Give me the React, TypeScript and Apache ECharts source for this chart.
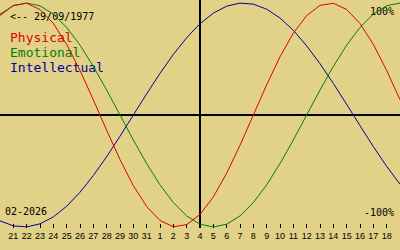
import React, { useEffect, useRef } from "react";
import * as echarts from "echarts";

// Day-of-month labels (20 Jan .. 19 Feb); first/last are at the chart edges and unlabeled
const DAYS = [
  "20", "21", "22", "23", "24", "25", "26", "27", "28", "29", "30", "31",
  "1", "2", "3", "4", "5", "6", "7", "8", "9", "10", "11", "12", "13", "14",
  "15", "16", "17", "18", "19",
];
const TODAY = "4";

// Values in percent
const PHYSICAL = [
  88.8, 97.9, 99.8, 94.2, 81.7, 63.1, 39.8, 13.6, -13.6, -39.8, -63.1, -81.7,
  -94.2, -99.8, -97.9, -88.8, -73.1, -52.0, -27.0, 0, 27.0, 52.0, 73.1, 88.8,
  97.9, 99.8, 94.2, 81.7, 63.1, 39.8, 13.6,
];
const EMOTIONAL = [
  90.1, 97.5, 100, 97.5, 90.1, 78.2, 62.4, 43.4, 22.3, 0, -22.3, -43.4, -62.4,
  -78.2, -90.1, -97.5, -100, -97.5, -90.1, -78.2, -62.4, -43.4, -22.3, 0, 22.3,
  43.4, 62.4, 78.2, 90.1, 97.5, 100,
];
const INTELLECTUAL = [
  -94.5, -99.0, -99.9, -97.2, -91.0, -81.5, -69.0, -54.1, -37.2, -18.9, 0,
  18.9, 37.2, 54.1, 69.0, 81.5, 91.0, 97.2, 99.9, 99.0, 94.5, 86.6, 75.6, 61.8,
  45.8, 28.2, 9.5, -9.5, -28.2, -45.8, -61.8,
];

const SERIES_NAMES = ["Physical", "Emotional", "Intellectual"];
const COLORS = ["#dd0000", "#008000", "#000099"];
const BIRTH_LABEL = "<-- 29/09/1977";
const MONTH_LABEL = "02-2026";
const TOP_LABEL = "100%";
const BOTTOM_LABEL = "-100%";

const MONO = "'DejaVu Sans Mono', monospace";

export default function App() {
  const ref = useRef<HTMLDivElement>(null);

  useEffect(() => {
    document.body.style.margin = "0";
    const chart = echarts.init(ref.current!, null, { renderer: "svg" });
    const inner = (i: number) => i > 0 && i < DAYS.length - 1;
    const option: any = {
      animation: false,
      backgroundColor: "#e1d288",
      grid: { left: 0, right: 0, top: 0, bottom: 22 },
      xAxis: {
        type: "category",
        data: DAYS,
        boundaryGap: false,
        offset: -4,
        axisLine: { show: false, onZero: false },
        axisTick: {
          show: true,
          length: 4,
          interval: inner,
          lineStyle: { color: "#000", width: 1 },
        },
        axisLabel: {
          interval: inner,
          margin: 7,
          fontSize: 9,
          fontFamily: "'Liberation Sans', sans-serif",
          color: "#000",
        },
        splitLine: { show: false },
      },
      yAxis: {
        type: "value",
        min: -100.9,
        max: 102.7,
        show: false,
        splitLine: { show: false },
      },
      series: [PHYSICAL, EMOTIONAL, INTELLECTUAL].map((d, i) => ({
        name: SERIES_NAMES[i],
        type: "line",
        data: d,
        showSymbol: false,
        smooth: false,
        lineStyle: { color: COLORS[i], width: 1 },
        itemStyle: { color: COLORS[i] },
        z: 3 - i,
        ...(i === 0
          ? {
              markLine: {
                silent: true,
                symbol: ["none", "none"],
                label: { show: false },
                lineStyle: { color: "#000", width: 2, type: "solid" },
                data: [{ yAxis: 0 }, { xAxis: TODAY }],
                z: 1,
              },
            }
          : {}),
      })),
      graphic: [
        {
          type: "text",
          left: 10,
          top: 11,
          style: { text: BIRTH_LABEL, fontSize: 10, fontFamily: MONO, fill: "#000" },
        },
        ...SERIES_NAMES.map((n, i) => ({
          type: "text",
          left: 10,
          top: 31 + i * 15,
          style: { text: n, fontSize: 13, fontFamily: MONO, fill: COLORS[i] },
        })),
        {
          type: "text",
          right: 6,
          top: 6,
          style: { text: TOP_LABEL, fontSize: 10, fontFamily: MONO, fill: "#000" },
        },
        {
          type: "text",
          right: 6,
          top: 207,
          style: { text: BOTTOM_LABEL, fontSize: 10, fontFamily: MONO, fill: "#000" },
        },
        {
          type: "text",
          left: 5,
          top: 206,
          style: { text: MONTH_LABEL, fontSize: 10, fontFamily: MONO, fill: "#000" },
        },
      ],
    };
    chart.setOption(option);
    return () => chart.dispose();
  }, []);

  return <div ref={ref} style={{ width: 400, height: 250 }} />;
}
